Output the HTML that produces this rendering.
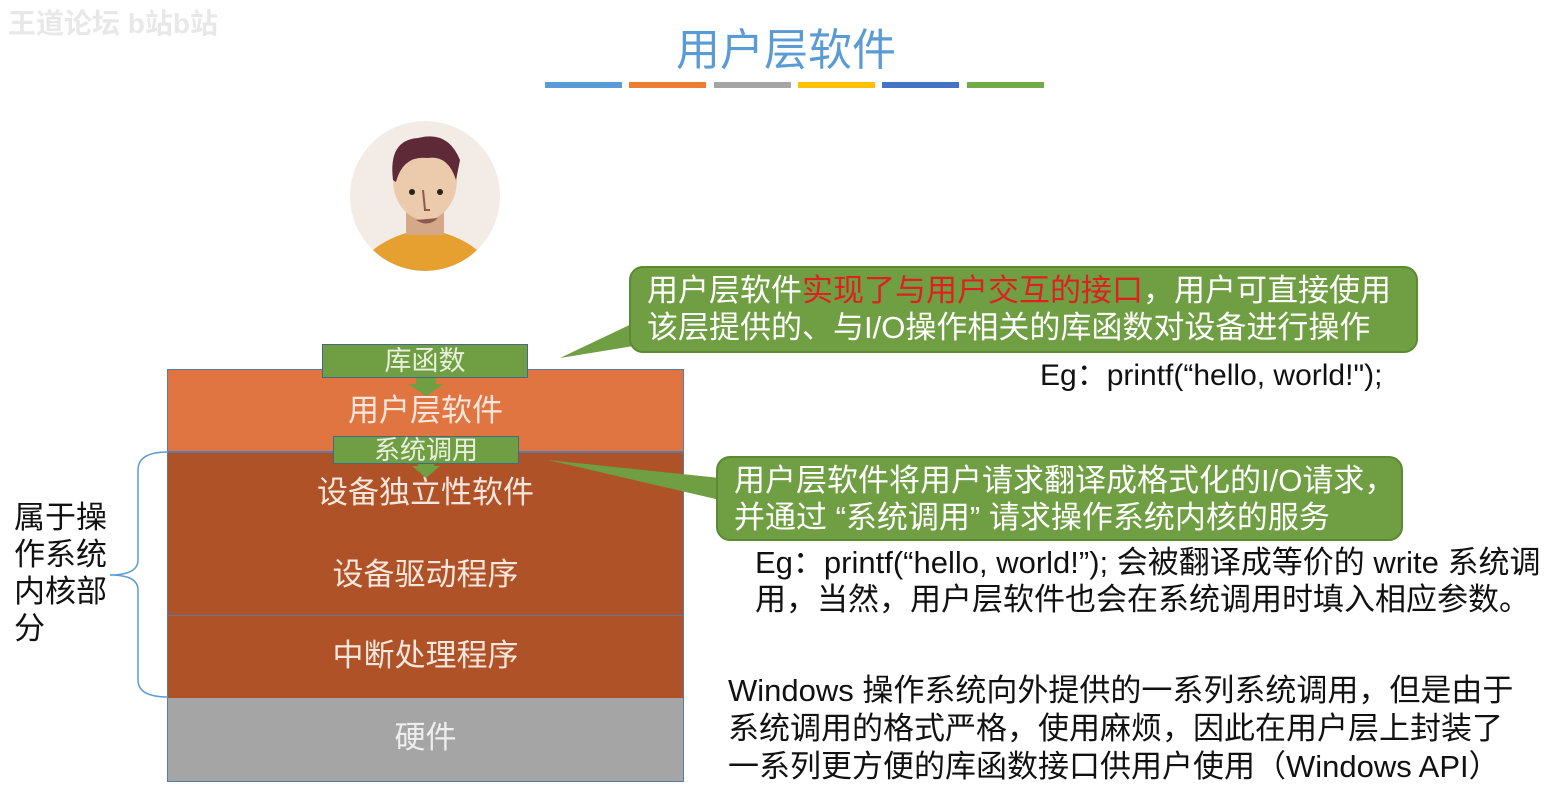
<!DOCTYPE html>
<html><head><meta charset="utf-8"><style>
body{margin:0;width:1552px;height:796px;background:#fff;position:relative;overflow:hidden;font-family:"Liberation Sans","Noto Sans CJK SC",sans-serif}
.a{position:absolute}
.layer{position:absolute;left:167px;width:517px;color:#f6e6dc;font-size:31px;text-align:center;box-sizing:border-box;border-left:1px solid #5a7aa8;border-right:1px solid #5a7aa8}
.g{position:absolute;background:#6f9e43;border:1px solid #3f6a8a;color:#e8f0dc;text-align:center;box-sizing:border-box}
.bub{position:absolute;background:#6f9e43;border:2px solid #5b8a33;border-radius:14px;color:#fff;font-size:31px;line-height:37px;box-sizing:border-box;padding:4px 16px;white-space:nowrap}
.t{position:absolute;color:#111;font-size:31px;line-height:37px;white-space:nowrap}
</style></head><body>
<div class="a" style="left:8px;top:2px;font-size:28px;color:#e8e8e8;font-weight:bold">王道论坛 b站b站</div>
<div class="a" style="left:0;width:1552px;top:14px;text-align:center;font-size:44px;color:#5b9bd5;padding-left:10px">用户层软件</div>
<div class="a" style="left:545px;top:82px;width:77px;height:6px;background:#5b9bd5"></div>
<div class="a" style="left:629px;top:82px;width:77px;height:6px;background:#ed7d31"></div>
<div class="a" style="left:714px;top:82px;width:77px;height:6px;background:#a5a5a5"></div>
<div class="a" style="left:798px;top:82px;width:77px;height:6px;background:#ffc000"></div>
<div class="a" style="left:882px;top:82px;width:77px;height:6px;background:#4472c4"></div>
<div class="a" style="left:967px;top:82px;width:77px;height:6px;background:#70ad47"></div>

<svg class="a" style="left:348px;top:120px" width="154" height="152" viewBox="0 0 154 152">
<defs><clipPath id="c"><circle cx="77" cy="76" r="75"/></clipPath></defs>
<circle cx="77" cy="76" r="75" fill="#f2ebe6"/>
<g clip-path="url(#c)">
<path d="M10 152 Q20 120 77 108 Q134 120 144 152Z" fill="#e6a030"/>
<rect x="58" y="85" width="38" height="30" fill="#d5a888"/>
<ellipse cx="77" cy="60" rx="32" ry="40" fill="#eccbac"/>
<path d="M45 60 Q40 20 70 18 Q100 10 112 40 L108 60 Q100 35 80 38 Q55 35 48 62Z" fill="#5e2a38"/>
<circle cx="64" cy="72" r="3" fill="#222"/><circle cx="92" cy="72" r="3" fill="#222"/>
<path d="M75 70 L77 90 L82 90" stroke="#8b5a4a" stroke-width="2" fill="none"/>
<path d="M68 100 Q80 108 90 98Z" fill="#8b5a50"/>
</g></svg>

<div class="layer" style="top:369px;height:83px;background:#e07541;border-top:1px solid #5a7aa8;line-height:82px">用户层软件</div>
<div class="layer" style="top:451px;height:166px;background:#b05228;border-top:2px solid #5a7aa8;border-bottom:2px solid #5a7aa8">
<div style="position:absolute;top:20px;width:100%;line-height:40px">设备独立性软件</div>
<div style="position:absolute;top:102px;width:100%;line-height:40px">设备驱动程序</div></div>
<div class="layer" style="top:616px;height:83px;background:#b05228;line-height:80px">中断处理程序</div>
<div class="layer" style="top:698px;height:84px;background:#a5a5a5;border-bottom:1px solid #5a7aa8;line-height:80px;color:#eee">硬件</div>

<svg class="a" style="left:0;top:0" width="1552" height="796">
<polygon points="416,376 436,376 436,384 444,384 426,396 408,384 416,384" fill="#6f9e43"/>
<polygon points="418,462 434,462 434,466 440,466 426,478 412,466 418,466" fill="#6f9e43"/>
<path d="M168,452 Q138,452 138,470 L138,560 Q138,575 110,575 Q138,575 138,590 L138,680 Q138,697 168,697" stroke="#5b9bd5" stroke-width="1.5" fill="none"/>
<polygon points="560,358 640,320 640,345" fill="#6f9e43"/>
<polygon points="548,460 720,478 720,500" fill="#6f9e43"/>
<path d="M502,348 L502,364 L506,360 L510,368 L512,367 L508,359 L513,359Z" fill="#111" stroke="#fff" stroke-width=".8"/>
</svg>
<div class="g" style="left:322px;top:344px;width:206px;height:34px;font-size:27px;line-height:32px">库函数</div>
<div class="g" style="left:333px;top:436px;width:186px;height:28px;font-size:26px;line-height:26px">系统调用</div>

<div class="a" style="left:14px;top:499px;font-size:31px;line-height:37px;color:#111;width:100px">属于操<br>作系统<br>内核部<br>分</div>

<div class="bub" style="left:629px;top:266px;width:789px;height:87px">用户层软件<span style="color:#e02020">实现了与用户交互的接口</span>，用户可直接使用<br>该层提供的、与I/O操作相关的库函数对设备进行操作</div>
<div class="t" style="left:1040px;top:357px;font-size:30px">Eg：printf(“hello, world!");</div>
<div class="bub" style="left:716px;top:456px;width:687px;height:85px">用户层软件将用户请求翻译成格式化的I/O请求，<br>并通过 “系统调用” 请求操作系统内核的服务</div>
<div class="t" style="left:755px;top:544px">Eg：printf(“hello, world!”); 会被翻译成等价的 write 系统调<br>用，当然，用户层软件也会在系统调用时填入相应参数。</div>
<div class="t" style="left:728px;top:672px;line-height:38px">Windows 操作系统向外提供的一系列系统调用，但是由于<br>系统调用的格式严格，使用麻烦，因此在用户层上封装了<br>一系列更方便的库函数接口供用户使用（Windows API）</div>
</body></html>
